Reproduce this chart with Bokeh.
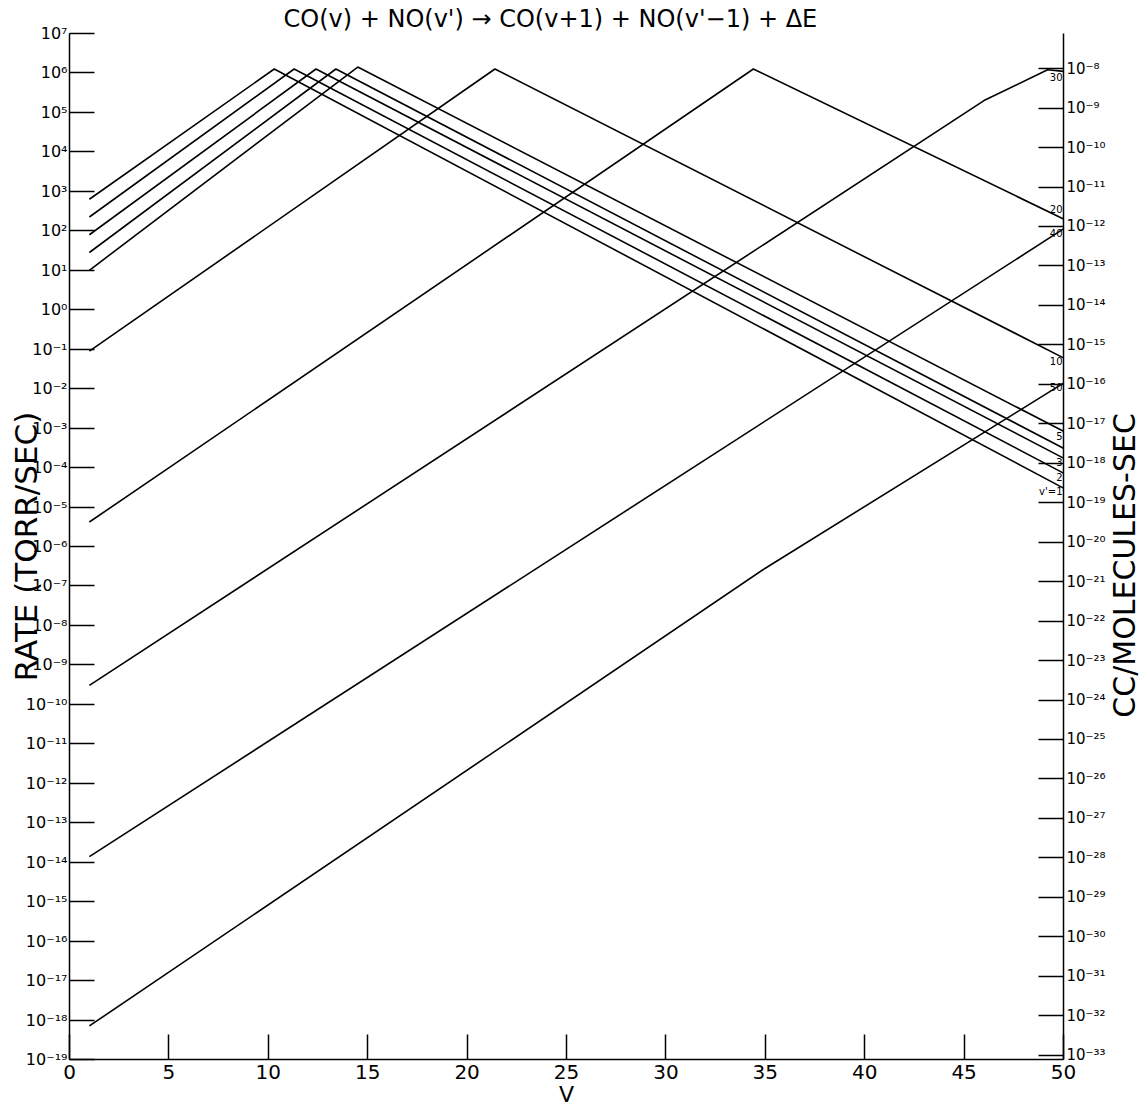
import math
from bokeh.plotting import figure
from bokeh.layouts import row
from bokeh.models import (Range1d, LogAxis, LogScale, FixedTicker, ColumnDataSource)
from bokeh.core.properties import value
from bokeh.embed import file_html
from bokeh.resources import INLINE

# ---------------- data ----------------
# V values and log10(rate, torr/sec)
series_names = ["v'=1", "2", "3", "", "5", "10", "20", "30", "40", "50"]

V_1 = [1, 10.3, 50]
LOG_1 = [2.8, 6.1, -4.52]
V_2 = [1, 11.3, 50]
LOG_2 = [2.35, 6.1, -4.14]
V_3 = [1, 12.4, 50]
LOG_3 = [1.9, 6.1, -3.76]
V_4 = [1, 13.4, 50]
LOG_4 = [1.45, 6.1, -3.51]
V_5 = [1, 14.5, 50]
LOG_5 = [1.0, 6.15, -3.08]
V_10 = [1, 21.4, 50]
LOG_10 = [-1.05, 6.1, -1.22]
V_20 = [1, 34.4, 50]
LOG_20 = [-5.38, 6.1, 2.3]
V_30 = [1, 46, 49.2, 50]
LOG_30 = [-9.52, 5.3, 6.08, 6.04]
V_40 = [1, 50]
LOG_40 = [-13.86, 2.05]
V_50 = [1, 35, 50]
LOG_50 = [-18.15, -6.55, -1.86]

series_V = [V_1, V_2, V_3, V_4, V_5, V_10, V_20, V_30, V_40, V_50]
series_LOG = [LOG_1, LOG_2, LOG_3, LOG_4, LOG_5, LOG_10, LOG_20, LOG_30, LOG_40, LOG_50]

x_ticks = [0, 5, 10, 15, 20, 25, 30, 35, 40, 45, 50]
left_exponents = list(range(7, -20, -1))
left_tick_labels = ["10⁷", "10⁶", "10⁵", "10⁴", "10³", "10²", "10¹", "10⁰",
                    "10⁻¹", "10⁻²", "10⁻³", "10⁻⁴", "10⁻⁵", "10⁻⁶", "10⁻⁷",
                    "10⁻⁸", "10⁻⁹", "10⁻¹⁰", "10⁻¹¹", "10⁻¹²", "10⁻¹³",
                    "10⁻¹⁴", "10⁻¹⁵", "10⁻¹⁶", "10⁻¹⁷", "10⁻¹⁸", "10⁻¹⁹"]
right_exponents = list(range(-8, -34, -1))
right_tick_labels = ["10⁻⁸", "10⁻⁹", "10⁻¹⁰", "10⁻¹¹", "10⁻¹²", "10⁻¹³",
                     "10⁻¹⁴", "10⁻¹⁵", "10⁻¹⁶", "10⁻¹⁷", "10⁻¹⁸", "10⁻¹⁹",
                     "10⁻²⁰", "10⁻²¹", "10⁻²²", "10⁻²³", "10⁻²⁴", "10⁻²⁵",
                     "10⁻²⁶", "10⁻²⁷", "10⁻²⁸", "10⁻²⁹", "10⁻³⁰", "10⁻³¹",
                     "10⁻³²", "10⁻³³"]

title_text = "CO(v) + NO(v') → CO(v+1) + NO(v'−1) + ΔE"
left_label_text = "RATE (TORR/SEC)"
right_label_text = "CC/MOLECULES-SEC"
x_label_text = "V"

# ---------------- style ----------------
end_label_dy = [3, 4, 4, 4, 5, 3, -10, 6, 4, 4]
LINE_W = 1.6
FONT = "DejaVu Sans"
MAIN_W = 1108
SIDE_W = 1142 - MAIN_W
H = 1111

p = figure(width=MAIN_W, height=H, output_backend="svg", toolbar_location=None,
           x_range=Range1d(0, 50), y_range=Range1d(1e-19, 1e7),
           y_axis_type="log", title=title_text,
           min_border_left=69, min_border_right=42,
           min_border_top=33, min_border_bottom=52)
p.outline_line_color = None
p.xgrid.visible = False
p.ygrid.visible = False
p.background_fill_color = "white"
p.border_fill_color = "white"

p.title.align = "left"
p.title.offset = 214
p.title.standoff = 2
p.title.text_font = FONT
p.title.text_font_size = "24px"
p.title.text_font_style = "normal"
p.title.text_color = "black"

# left axis
la = p.left[0]
la.ticker = FixedTicker(ticks=[10.0 ** e for e in left_exponents])
la.major_label_overrides = {10.0 ** e: s for e, s in zip(left_exponents, left_tick_labels)}
la.axis_label = left_label_text

# right axis
p.extra_y_ranges = {"right": Range1d(10 ** -33.11, 10 ** -7.11)}
p.extra_y_scales = {"right": LogScale()}
ra = LogAxis(y_range_name="right",
             ticker=FixedTicker(ticks=[10.0 ** e for e in right_exponents]))
ra.major_label_overrides = {10.0 ** e: s for e, s in zip(right_exponents, right_tick_labels)}
p.add_layout(ra, "right")

xa = p.below[0]
xa.ticker = FixedTicker(ticks=x_ticks)
xa.axis_label = x_label_text

for ax in (la, ra, xa):
    ax.axis_line_color = "black"
    ax.axis_line_width = 1.5
    ax.major_tick_in = 25
    ax.major_tick_out = 0
    ax.major_tick_line_width = 1.5
    ax.major_tick_line_color = "black"
    ax.minor_tick_line_color = None
    ax.major_label_text_color = "black"
    ax.major_label_text_font = FONT
    ax.axis_label_text_font = FONT
    ax.axis_label_text_font_style = "normal"
    ax.axis_label_text_color = "black"

la.major_label_text_font_size = "16px"
la.major_label_standoff = 2
la.axis_label_text_font_size = "31px"
la.axis_label_standoff = -21

ra.major_label_text_font_size = "15px"
ra.major_label_standoff = 3

xa.major_label_text_font_size = "20px"
xa.major_label_standoff = 5
xa.axis_label_text_font_size = "22px"
xa.axis_label_standoff = 0

# curves
for Vs, Ls in zip(series_V, series_LOG):
    p.line(Vs, [10 ** v for v in Ls], line_color="black", line_width=LINE_W)

# end labels
src = ColumnDataSource(dict(
    x=[Vs[-1] for Vs in series_V],
    y=[10 ** Ls[-1] for Ls in series_LOG],
    text=series_names,
    dy=end_label_dy,
))
p.text(x="x", y="y", text="text", source=src, text_align="right",
       text_baseline="middle", x_offset=-1, y_offset="dy",
       text_font=value(FONT), text_font_size="10px", text_color="black")

# narrow side panel carrying the right-hand axis title (reads bottom to top)
side = figure(width=SIDE_W, height=H, output_backend="svg", toolbar_location=None,
              x_range=Range1d(0, SIDE_W), y_range=Range1d(0, H),
              x_axis_location=None, y_axis_location=None,
              min_border=0, title=None)
side.outline_line_color = None
side.xgrid.visible = False
side.ygrid.visible = False
side.border_fill_color = "white"
side.background_fill_color = "white"
side.text(x=[1124 - MAIN_W], y=[H - 576], text=[right_label_text],
          angle=math.pi / 2, text_align="center", text_baseline="middle",
          text_font=value(FONT), text_font_size="30px", text_color="black")

layout = row(p, side)
open("out.html", "w").write(file_html(layout, INLINE))
